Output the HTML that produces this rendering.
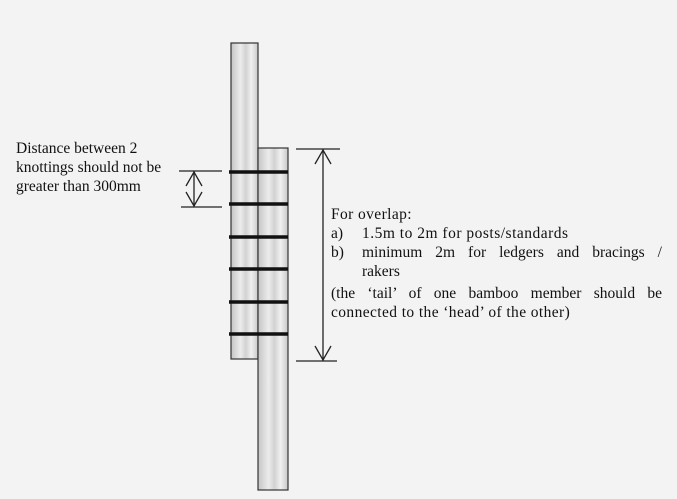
<!DOCTYPE html>
<html><head><style>
body{margin:0;width:677px;height:499px;background:#f3f3f3;overflow:hidden;font-family:"Liberation Serif",serif;}
.t{position:absolute;font-size:15.5px;color:#111;line-height:19px;white-space:nowrap}
</style></head><body>
<svg width="677" height="499" style="position:absolute;left:0;top:0">
<defs>
<linearGradient id="g" x1="0" x2="1">
<stop offset="0" stop-color="#c4c4c4"/><stop offset="0.35" stop-color="#ececec"/><stop offset="0.55" stop-color="#d2d2d2"/><stop offset="0.75" stop-color="#f0f0f0"/><stop offset="1" stop-color="#c8c8c8"/>
</linearGradient>
</defs>
<rect x="231" y="43" width="27" height="316" fill="url(#g)" stroke="#333" stroke-width="1.2"/>
<rect x="258" y="148" width="30" height="342" fill="url(#g)" stroke="#333" stroke-width="1.2"/>
<g stroke="#111" stroke-width="3.5">
<line x1="229" y1="172" x2="288" y2="172"/>
<line x1="229" y1="204" x2="288" y2="204"/>
<line x1="229" y1="237" x2="288" y2="237"/>
<line x1="229" y1="269" x2="288" y2="269"/>
<line x1="229" y1="302" x2="288" y2="302"/>
<line x1="229" y1="334" x2="288" y2="334"/>
</g>
<g stroke="#222" stroke-width="1.3" fill="none">
<line x1="179" y1="171" x2="222" y2="171"/>
<line x1="181" y1="207" x2="222" y2="207"/>
<line x1="194" y1="171" x2="194" y2="207"/>
<polyline points="186,186 194,172 202,186"/>
<polyline points="186,192 194,206 202,192"/>
<line x1="296" y1="149" x2="340" y2="149"/>
<line x1="296" y1="361" x2="337" y2="361"/>
<line x1="323" y1="149" x2="323" y2="361"/>
<polyline points="315,164 323,150 331,164"/>
<polyline points="315,346 323,360 331,346"/>
</g>
</svg>
<div class="t" style="left:16px;top:139px">Distance between 2<br>knottings should not be<br>greater than 300mm</div>
<div class="t" style="left:331px;top:205px;letter-spacing:0.4px">For overlap:</div>
<div class="t" style="left:331px;top:224px">a)</div><div class="t" style="left:362px;top:224px;letter-spacing:0.5px">1.5m to 2m for posts/standards</div>
<div class="t" style="left:331px;top:243px">b)</div><div class="t" style="left:362px;top:243px;width:300px;text-align:justify;text-align-last:justify">minimum 2m for ledgers and bracings /</div>
<div class="t" style="left:362px;top:262px">rakers</div>
<div class="t" style="left:331px;top:284px;width:331px;text-align:justify;text-align-last:justify">(the ‘tail’ of one bamboo member should be</div>
<div class="t" style="left:331px;top:303px;letter-spacing:0.4px">connected to the ‘head’ of the other)</div>
</body></html>
